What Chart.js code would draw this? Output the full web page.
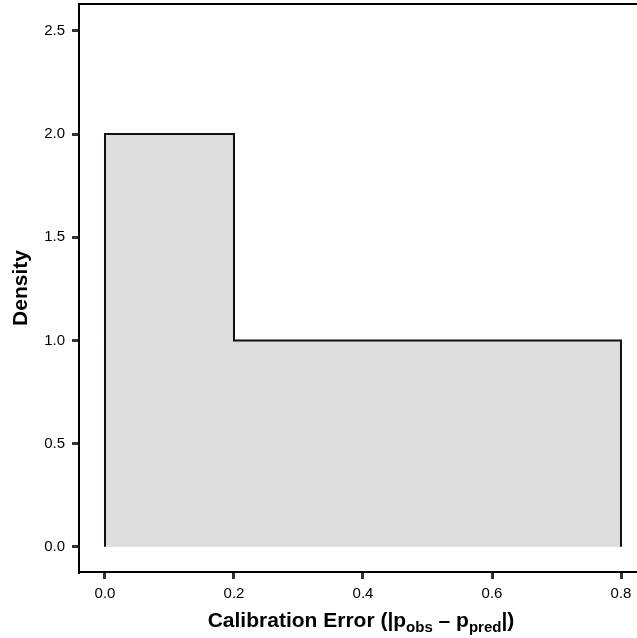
<!DOCTYPE html>
<html>
<head>
<meta charset="utf-8">
<script src="https://cdn.jsdelivr.net/npm/chart.js@4"></script>
<style>
  html, body { margin: 0; padding: 0; background: #fff; }
  #wrap { width: 637px; height: 638px; }
</style>
</head>
<body>
<div id="wrap"><canvas id="c" width="637" height="638"></canvas></div>
<script>
// ---- data ----
const binEdges = [0.0, 0.2, 0.4, 0.6, 0.8];
const density = [2, 1, 1, 1];
const xTicks = [0.0, 0.2, 0.4, 0.6, 0.8];
const yTicks = [0.0, 0.5, 1.0, 1.5, 2.0, 2.5];

// step outline built from the histogram bins
const outline = [{x: binEdges[0], y: 0}];
for (let i = 0; i < density.length; i++) {
  outline.push({x: binEdges[i], y: density[i]});
  outline.push({x: binEdges[i + 1], y: density[i]});
}
outline.push({x: binEdges[binEdges.length - 1], y: 0});

const FONT = "'Liberation Sans', Arial, Helvetica, sans-serif";

const extras = {
  id: 'extras',
  afterDraw(chart) {
    const ctx = chart.ctx;
    const a = chart.chartArea;
    ctx.save();
    // top panel border
    ctx.strokeStyle = '#000';
    ctx.lineWidth = 2;
    ctx.beginPath();
    ctx.moveTo(a.left - 1, a.top);
    ctx.lineTo(a.right, a.top);
    ctx.stroke();
    // x title with subscripts
    const big = "bold 21px " + FONT;
    const small = "bold 15px " + FONT;
    const parts = [
      {t: 'Calibration Error (|p', f: big, dy: 0},
      {t: 'obs', f: small, dy: 5},
      {t: ' \u2013 p', f: big, dy: 0},
      {t: 'pred', f: small, dy: 5},
      {t: '|)', f: big, dy: 0}
    ];
    let total = 0;
    parts.forEach(p => { ctx.font = p.f; p.w = ctx.measureText(p.t).width; total += p.w; });
    let x = (a.left + a.right) / 2 - total / 2 + 3;
    const base = 627;
    ctx.fillStyle = '#000';
    ctx.textBaseline = 'alphabetic';
    ctx.textAlign = 'left';
    parts.forEach(p => { ctx.font = p.f; ctx.fillText(p.t, x, base + p.dy); x += p.w; });
    ctx.restore();
  }
};

new Chart(document.getElementById('c'), {
  type: 'line',
  data: {
    datasets: [{
      data: outline,
      borderColor: '#111',
      borderWidth: 2,
      backgroundColor: '#DDDDDD',
      fill: 'origin',
      pointRadius: 0,
      tension: 0,
      borderJoinStyle: 'miter'
    }]
  },
  options: {
    responsive: false,
    animation: false,
    layout: { padding: { left: 0, right: 0, top: 4, bottom: 0 } },
    plugins: { legend: { display: false }, tooltip: { enabled: false } },
    scales: {
      x: {
        type: 'linear',
        min: -0.0403,
        max: 0.8248,
        afterBuildTicks: s => { s.ticks = xTicks.map(v => ({value: v})); },
        afterFit: s => { s.height = 66; s.paddingLeft = 0; s.paddingRight = 0; },
        grid: { display: true, drawOnChartArea: false, drawTicks: true, tickLength: 7, color: '#333', lineWidth: 3 },
        border: { display: true, color: '#000', width: 2 },
        ticks: {
          padding: 6,
          color: '#000',
          font: { family: FONT, size: 15 },
          maxRotation: 0,
          callback: v => v.toFixed(1)
        }
      },
      y: {
        type: 'linear',
        min: -0.122,
        max: 2.63,
        afterBuildTicks: s => { s.ticks = yTicks.map(v => ({value: v})); },
        afterFit: s => { s.width = 79; s.paddingTop = 0; s.paddingBottom = 0; },
        grid: { display: true, drawOnChartArea: false, drawTicks: true, tickLength: 7, color: '#333', lineWidth: 3 },
        border: { display: true, color: '#000', width: 2 },
        title: {
          display: true,
          text: 'Density',
          color: '#000',
          font: { family: FONT, size: 21, weight: 'bold' },
          padding: { top: 9, bottom: 0 }
        },
        ticks: {
          padding: 7,
          color: '#000',
          font: { family: FONT, size: 15 },
          callback: v => v.toFixed(1)
        }
      }
    }
  },
  plugins: [extras]
});
</script>
</body>
</html>
